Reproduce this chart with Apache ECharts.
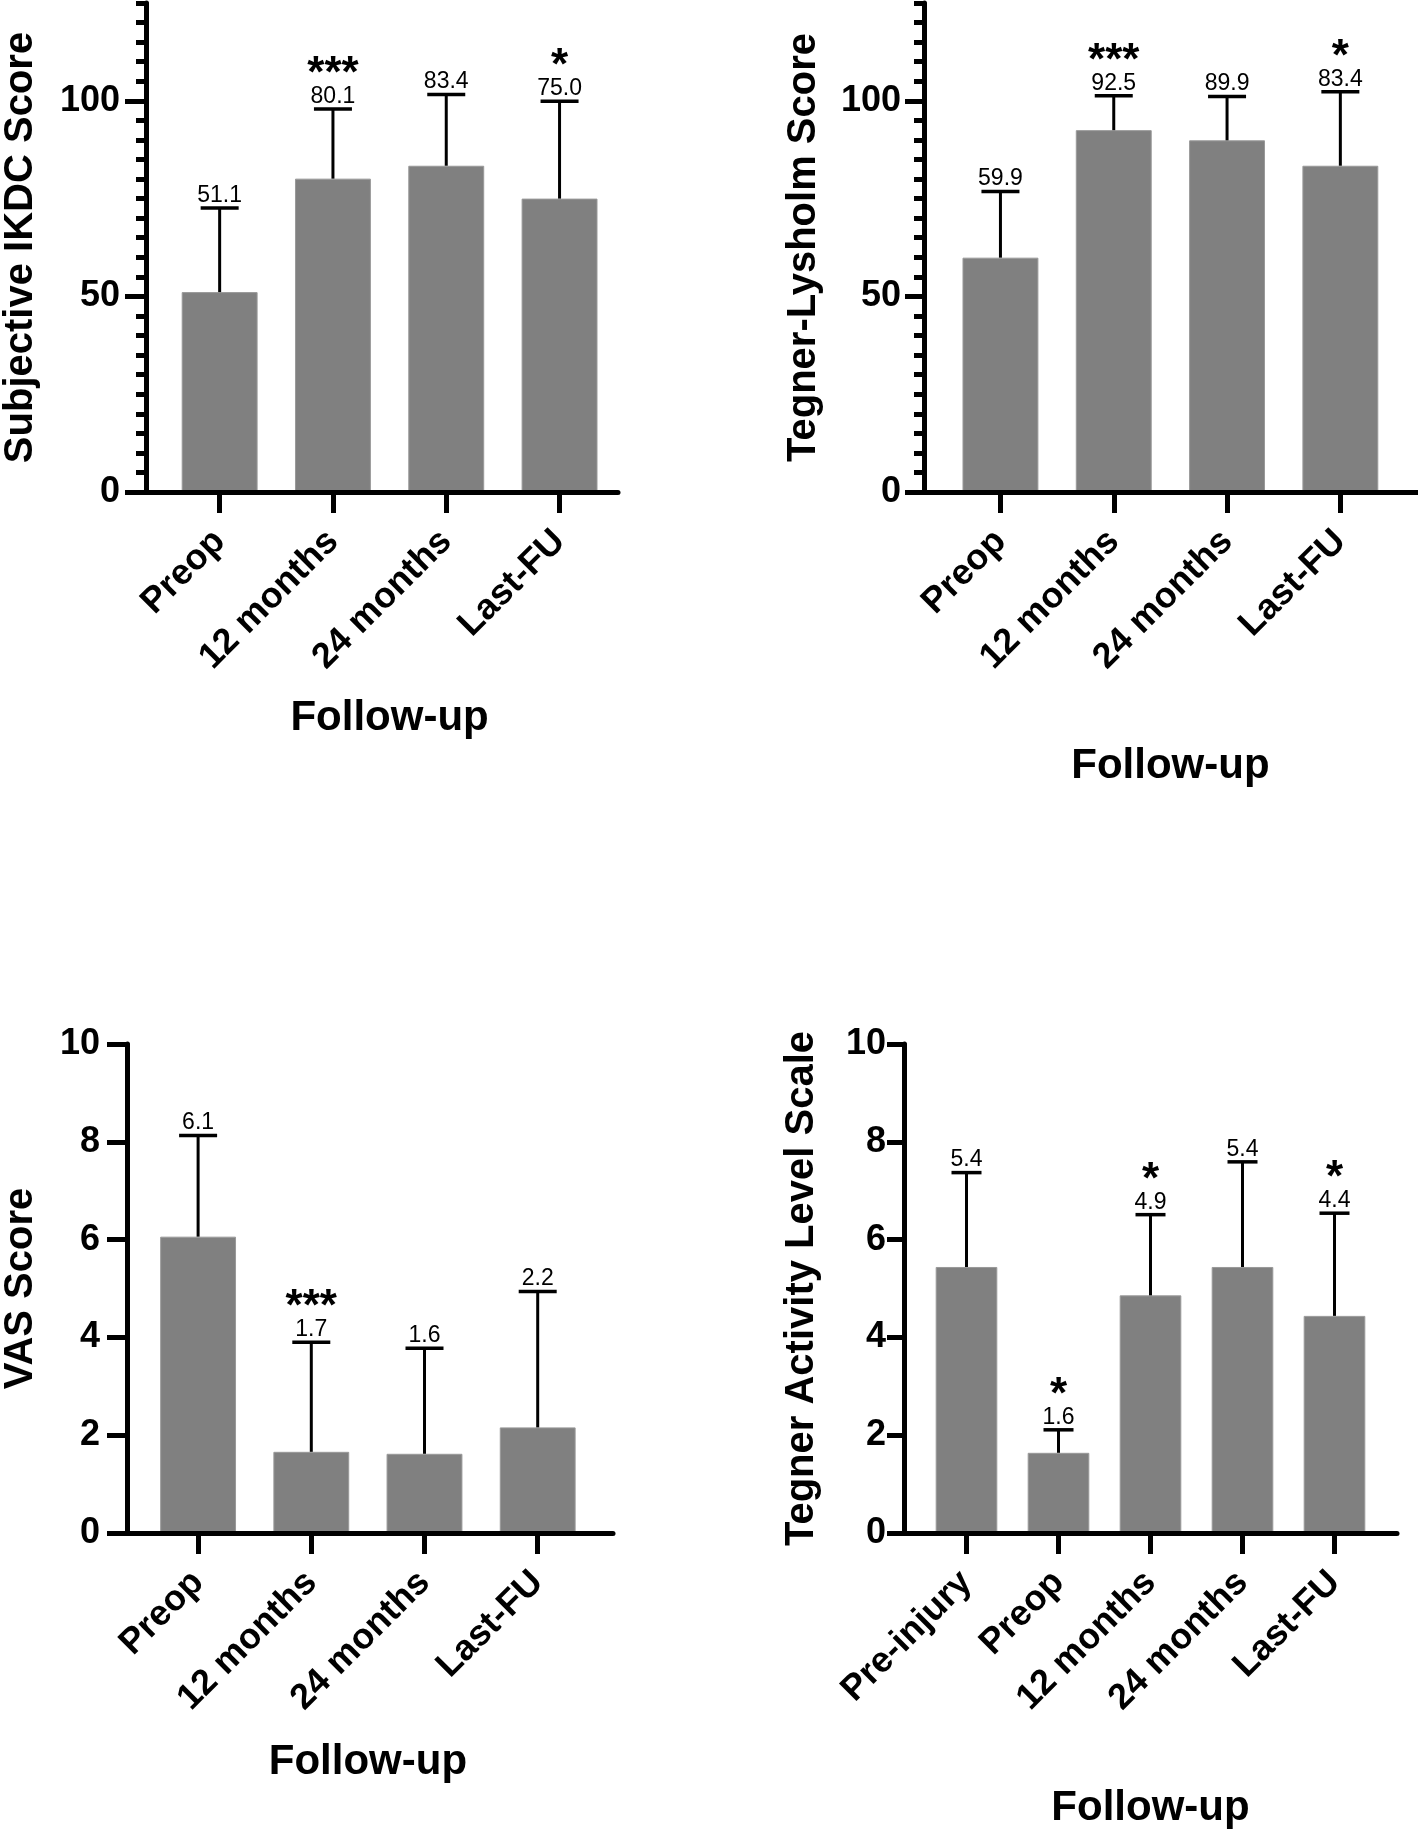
<!DOCTYPE html>
<html><head><meta charset="utf-8">
<script src="https://cdn.jsdelivr.net/npm/echarts@6/dist/echarts.min.js"></script>
<style>html,body{margin:0;padding:0;background:#fff}#c{width:1418px;height:1835px}</style>
</head><body><div id="c"></div>
<script>
// ---------- DATA ----------
const catsFU = ['Preop', '12 months', '24 months', 'Last-FU'];
const catsTegner = ['Pre-injury', 'Preop', '12 months', '24 months', 'Last-FU'];

const ikdcMean = [51.1, 80.1, 83.4, 75.0];
const ikdcSD = [21.5, 17.8, 18.2, 24.9];
const ikdcLabels = ['51.1', '80.1', '83.4', '75.0'];
const ikdcStars = ['', '***', '', '*'];

const lysMean = [59.9, 92.5, 89.9, 83.4];
const lysSD = [16.9, 8.8, 11.2, 18.9];
const lysLabels = ['59.9', '92.5', '89.9', '83.4'];
const lysStars = ['', '***', '', '*'];

const vasMean = [6.06, 1.66, 1.62, 2.16];
const vasSD = [2.07, 2.24, 2.16, 2.78];
const vasLabels = ['6.1', '1.7', '1.6', '2.2'];
const vasStars = ['', '***', '', ''];

const tegMean = [5.44, 1.64, 4.86, 5.44, 4.44];
const tegSD = [1.93, 0.47, 1.65, 2.15, 2.10];
const tegLabels = ['5.4', '1.6', '4.9', '5.4', '4.4'];
const tegStars = ['', '*', '*', '', '*'];

const ticks100 = [0, 50, 100];
const ticks10 = [0, 2, 4, 6, 8, 10];

// ---------- LAYOUT ----------
const FONT = 'Liberation Sans, Arial, sans-serif';
const panels = [
  { cats: catsFU, mean: ikdcMean, sd: ikdcSD, labels: ikdcLabels, stars: ikdcStars,
    yName: 'Subjective IKDC Score', max: 125, majors: ticks100, minor: 5,
    axisX: 145, bandLeft: 163, bandW: 113.3, lineEnd: 618, top: 3, bottom: 492,
    yNameGap: 105, yLabelMargin: 26, yTickLen: 21, xNameGap: 205, cap: 19 },
  { cats: catsFU, mean: lysMean, sd: lysSD, labels: lysLabels, stars: lysStars,
    yName: 'Tegner-Lysholm Score', max: 125, majors: ticks100, minor: 5,
    axisX: 924, bandLeft: 943.8, bandW: 113.3, lineEnd: 1418, top: 3, bottom: 492,
    yNameGap: 100, yLabelMargin: 23, yTickLen: 19, xNameGap: 253, cap: 19 },
  { cats: catsFU, mean: vasMean, sd: vasSD, labels: vasLabels, stars: vasStars,
    yName: 'VAS Score', max: 10, majors: ticks10, minor: 0,
    axisX: 123, bandLeft: 141.5, bandW: 113.2, lineEnd: 613, top: 1044, bottom: 1533,
    yNameGap: 86, yLabelMargin: 27, yTickLen: 20, xNameGap: 208, cap: 19 },
  { cats: catsTegner, mean: tegMean, sd: tegSD, labels: tegLabels, stars: tegStars,
    yName: 'Tegner Activity Level Scale', max: 10, majors: ticks10, minor: 0,
    axisX: 904, bandLeft: 920.5, bandW: 92, lineEnd: 1397, top: 1044, bottom: 1533,
    yNameGap: 82, yLabelMargin: 18, yTickLen: 17, xNameGap: 254, cap: 15 }
];

const grid = [], xAxis = [], yAxis = [], series = [];
panels.forEach(p => {
  const h = p.bottom - p.top;
  const gB = grid.length;
  grid.push({ left: p.bandLeft, top: p.top, width: p.bandW * p.cats.length, height: h });
  const gA = grid.length;
  grid.push({ left: p.axisX, top: p.top, width: p.lineEnd - p.axisX, height: h });

  const xB = xAxis.length;
  xAxis.push({
    type: 'category', gridIndex: gB, data: p.cats, boundaryGap: true, position: 'bottom',
    axisLine: { show: false },
    axisTick: { show: true, alignWithLabel: true, length: 21, lineStyle: { color: '#000', width: 5 } },
    axisLabel: { interval: 0, rotate: 45, margin: 44, color: '#000', fontSize: 36, fontWeight: 'bold', fontFamily: FONT },
    name: 'Follow-up', nameLocation: 'middle', nameGap: p.xNameGap,
    nameTextStyle: { color: '#000', fontSize: 42, fontWeight: 'bold', fontFamily: FONT },
    splitLine: { show: false }
  });
  xAxis.push({
    type: 'value', gridIndex: gA, min: 0, max: 1, z: 5, position: 'bottom',
    axisLine: { show: true, onZero: false, lineStyle: { color: '#000', width: 5 } },
    axisTick: { show: false }, axisLabel: { show: false }, splitLine: { show: false }
  });
  const yB = yAxis.length;
  yAxis.push({ type: 'value', gridIndex: gB, min: 0, max: p.max, show: false, splitLine: { show: false } });
  yAxis.push({
    type: 'value', gridIndex: gA, min: 0, max: p.max, z: 5, position: 'left', offset: 0,
    axisLine: { show: true, onZero: false, lineStyle: { color: '#000', width: 5 } },
    axisTick: { show: true, customValues: p.majors, length: p.yTickLen, lineStyle: { color: '#000', width: 5 } },
    axisLabel: { show: true, customValues: p.majors, margin: p.yLabelMargin, color: '#000', fontSize: 36, fontWeight: 'bold', fontFamily: FONT },
    splitLine: { show: false },
    name: p.yName, nameLocation: 'middle', nameGap: p.yNameGap,
    nameTextStyle: { color: '#000', fontSize: 40, fontWeight: 'bold', fontFamily: FONT }
  });
  if (p.minor) {
    yAxis.push({
      type: 'value', gridIndex: gA, min: 0, max: p.max, interval: p.minor, z: 5,
      position: 'left', offset: 0,
      axisLine: { show: false, onZero: false },
      axisTick: { show: true, length: 10, lineStyle: { color: '#000', width: 5 } },
      axisLabel: { show: false }, splitLine: { show: false }
    });
  }

  series.push({
    type: 'bar', xAxisIndex: xB, yAxisIndex: yB, data: p.mean, barWidth: '67%',
    itemStyle: { color: '#808080', borderColor: '#999999', borderWidth: 1 }, z: 2
  });
  series.push({
    type: 'custom', xAxisIndex: xB, yAxisIndex: yB, z: 4,
    data: p.mean.map((m, i) => [i, m, m + p.sd[i]]),
    renderItem: (params, api) => {
      const i = params.dataIndex;
      const b = api.coord([api.value(0), api.value(1)]);
      const t = api.coord([api.value(0), api.value(2)]);
      const children = [
        { type: 'line', shape: { x1: b[0], y1: b[1], x2: b[0], y2: t[1] }, style: { stroke: '#000', lineWidth: 3 } },
        { type: 'line', shape: { x1: b[0] - p.cap, y1: t[1], x2: b[0] + p.cap, y2: t[1] }, style: { stroke: '#000', lineWidth: 3.5 } },
        { type: 'text', x: b[0], y: t[1] - 1, style: { text: p.labels[i], fill: '#000', fontSize: 23, fontFamily: FONT, align: 'center', verticalAlign: 'bottom' } }
      ];
      if (p.stars[i]) {
        children.push({ type: 'text', x: b[0], y: t[1] - 12, style: { text: p.stars[i], fill: '#000', fontSize: 44, fontWeight: 'bold', fontFamily: FONT, align: 'center', verticalAlign: 'bottom' } });
      }
      return { type: 'group', children };
    }
  });
});

const chart = echarts.init(document.getElementById('c'), null, { renderer: 'canvas', width: 1418, height: 1835 });
chart.setOption({ backgroundColor: '#fff', animation: false, grid, xAxis, yAxis, series });
</script>
</body></html>
